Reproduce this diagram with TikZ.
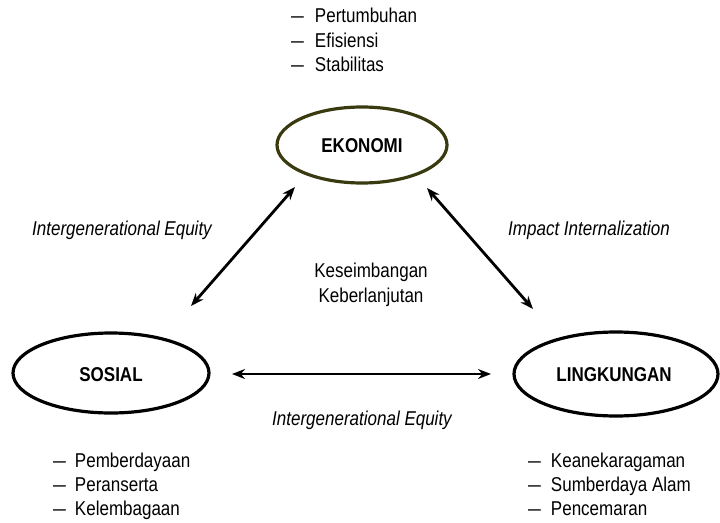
\documentclass[tikz,border=0pt]{standalone}
\usepackage{fontspec}
\setmainfont[FakeStretch=0.85]{Liberation Sans}
\usetikzlibrary{arrows.meta}
\definecolor{olive}{RGB}{58,58,16}
\newcommand{\dsh}{{\addfontfeature{FakeStretch=1.15}–}}
\tikzset{
  pillar/.style={draw, line width=3.2pt},
  plabel/.style={font=\fontsize{20}{24}\selectfont\bfseries, inner sep=0pt},
  link/.style={line width=2.8pt, {Stealth[length=13pt,width=10pt]}-{Stealth[length=13pt,width=10pt]}},
  txt/.style={font=\fontsize{20}{24}\selectfont, inner sep=0pt, anchor=base},
  itxt/.style={font=\fontsize{20}{24}\selectfont\itshape, inner sep=0pt, anchor=base},
  item/.style={font=\fontsize{20}{24}\selectfont, inner sep=0pt, anchor=base west}
}
\begin{document}
\begin{tikzpicture}[x=1pt,y=-1pt]
\useasboundingbox (0,0) rectangle (720,522);
% ellipses
\draw[pillar, draw=olive] (362,145) ellipse [x radius=85, y radius=38];
\node[plabel] (eko) at (362,146) {EKONOMI};
\draw[pillar] (111,373) ellipse [x radius=98, y radius=40];
\node[plabel] (sos) at (111,375) {SOSIAL};
\draw[pillar] (616,374) ellipse [x radius=102, y radius=42];
\node[plabel] (lin) at (614,375) {LINGKUNGAN};
% arrow end coordinates
\coordinate (a1) at (191,306);
\coordinate (a2) at (295,187);
\coordinate (b1) at (427,188);
\coordinate (b2) at (533,309);
\coordinate (c1) at (232,374);
\coordinate (c2) at (491,374);
\draw[link] (a1) -- (a2);
\draw[link] (b1) -- (b2);
\draw[link] (c1) -- (c2);
% labels
\node[itxt] (l1) at (122,235) {Intergenerational Equity};
\node[itxt] (l2) at (589,235) {Impact Internalization};
\node[itxt] (l3) at (362,425) {Intergenerational Equity};
\node[txt] (k1) at (371,277) {Keseimbangan};
\node[txt] (k2) at (371,302) {Keberlanjutan};
% lists
\node[item] (t1) at (291,23) {\dsh\hspace{11pt}Pertumbuhan};
\node[item] (t2) at (291,47) {\dsh\hspace{11pt}Efisiensi};
\node[item] (t3) at (291,71) {\dsh\hspace{11pt}Stabilitas};
\node[item] (s1) at (53,467) {\dsh\hspace{9pt}Pemberdayaan};
\node[item] (s2) at (53,491) {\dsh\hspace{9pt}Peranserta};
\node[item] (s3) at (53,515) {\dsh\hspace{9pt}Kelembagaan};
\node[item] (e1) at (528,467) {\dsh\hspace{10pt}Keanekaragaman};
\node[item] (e2) at (528,491) {\dsh\hspace{10pt}Sumberdaya Alam};
\node[item] (e3) at (528,515) {\dsh\hspace{10pt}Pencemaran};
\end{tikzpicture}
\end{document}
